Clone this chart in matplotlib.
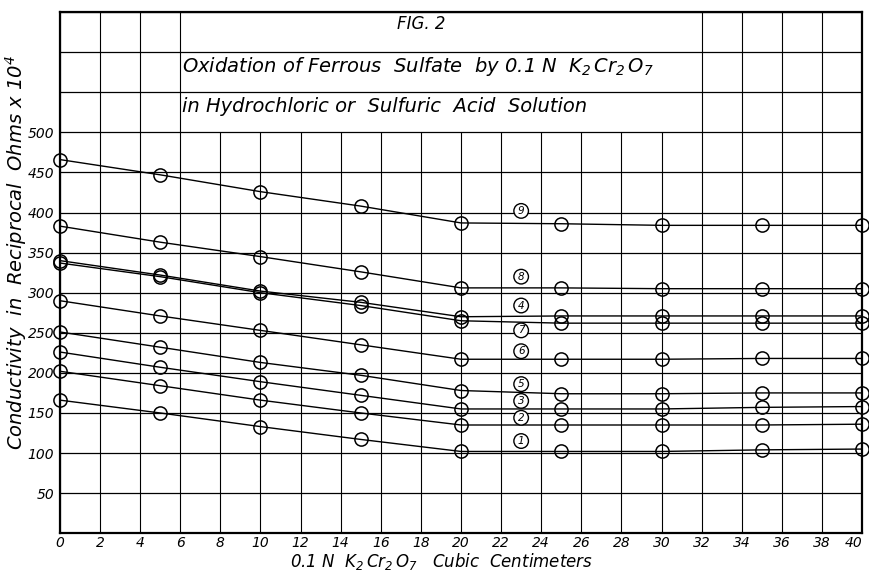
import matplotlib
matplotlib.use("Agg")
import matplotlib.pyplot as plt

# ---- data ----
x_cc = [0, 5, 10, 15, 20, 25, 30, 35, 40]
s1 = [166, 150, 133, 117, 102, 102, 102, 104, 105]
s2 = [202, 184, 166, 150, 135, 135, 135, 135, 136]
s3 = [226, 207, 189, 172, 155, 155, 155, 157, 158]
s5 = [251, 232, 213, 197, 178, 174, 174, 175, 175]
s6 = [290, 271, 253, 235, 217, 217, 217, 218, 218]
s7 = [337, 320, 300, 284, 265, 262, 262, 262, 262]
s4 = [340, 322, 302, 288, 270, 271, 271, 271, 271]
s8 = [383, 363, 345, 326, 306, 306, 305, 305, 305]
s9 = [466, 447, 426, 408, 387, 386, 384, 384, 384]
series = [s1, s2, s3, s5, s6, s7, s4, s8, s9]

curve_labels = ["1", "2", "3", "5", "6", "7", "4", "8", "9"]
label_y = [115, 144, 165, 186, 227, 253, 284, 320, 402]
label_x = 23

x_ticks = list(range(0, 41, 2))
y_ticks = list(range(50, 501, 50))
y_grid = list(range(50, 651, 50))

title_fig = "FIG. 2"
title_1 = r"Oxidation of Ferrous  Sulfate  by 0.1 N  $K_2\,Cr_2\,O_7$"
title_2 = "in Hydrochloric or  Sulfuric  Acid  Solution"
xlabel = r"0.1 N  $K_2\,Cr_2\,O_7$   Cubic  Centimeters"
ylabel = r"Conductivity  in  Reciprocal  Ohms x 10$^4$"

plt.rcParams["font.family"] = ["DejaVu Sans"]
plt.rcParams["mathtext.fontset"] = "custom"
plt.rcParams["mathtext.it"] = "DejaVu Sans:italic"
plt.rcParams["mathtext.rm"] = "DejaVu Sans:italic"
plt.rcParams["mathtext.default"] = "it"

fig = plt.figure(figsize=(8.69, 5.74), dpi=100)
ax = fig.add_axes([0.069, 0.071, 0.923, 0.908])
ax.set_xlim(0, 40)
ax.set_ylim(0, 650)

# grid
for yv in y_grid:
    ax.axhline(yv, color="black", lw=0.9, zorder=1)
for xv in x_ticks:
    if 8 <= xv <= 30:
        ax.vlines(xv, 0, 500, color="black", lw=0.8, zorder=1)
    else:
        ax.vlines(xv, 0, 650, color="black", lw=0.8, zorder=1)

for s in series:
    ax.plot(x_cc, s, color="black", lw=1.0, marker="o", ms=9.5,
            mfc="none", mec="black", mew=1.1, zorder=3, clip_on=False)

for lab, ly in zip(curve_labels, label_y):
    ax.text(label_x, ly, lab, ha="center", va="center", fontsize=7.5,
            style="italic", zorder=5,
            bbox=dict(boxstyle="circle,pad=0.22", fc="white", ec="black", lw=1.0))

ax.text(18, 635, title_fig, ha="center", va="center", fontsize=12, style="italic")
ax.text(6.1, 582, title_1, ha="left", va="center", fontsize=14, style="italic")
ax.text(6.1, 532, title_2, ha="left", va="center", fontsize=14, style="italic")

ax.set_xticks(x_ticks)
ax.set_xticklabels([str(v) for v in x_ticks], style="italic", fontsize=10)
ax.get_xticklabels()[-1].set_horizontalalignment("right")
ax.set_yticks(y_ticks)
ax.set_yticklabels([str(v) for v in y_ticks], style="italic", fontsize=10)
ax.tick_params(axis="x", length=0, pad=2)
ax.tick_params(axis="y", length=0, pad=4)

for sp in ax.spines.values():
    sp.set_linewidth(1.6)
    sp.set_color("black")

fig.text(0.508, 0.004, xlabel, ha="center", va="bottom", fontsize=12, style="italic")
fig.text(0.018, 0.561, ylabel, ha="center", va="center", fontsize=14,
         style="italic", rotation=90)

fig.savefig("out.png", dpi=100, facecolor="white")
